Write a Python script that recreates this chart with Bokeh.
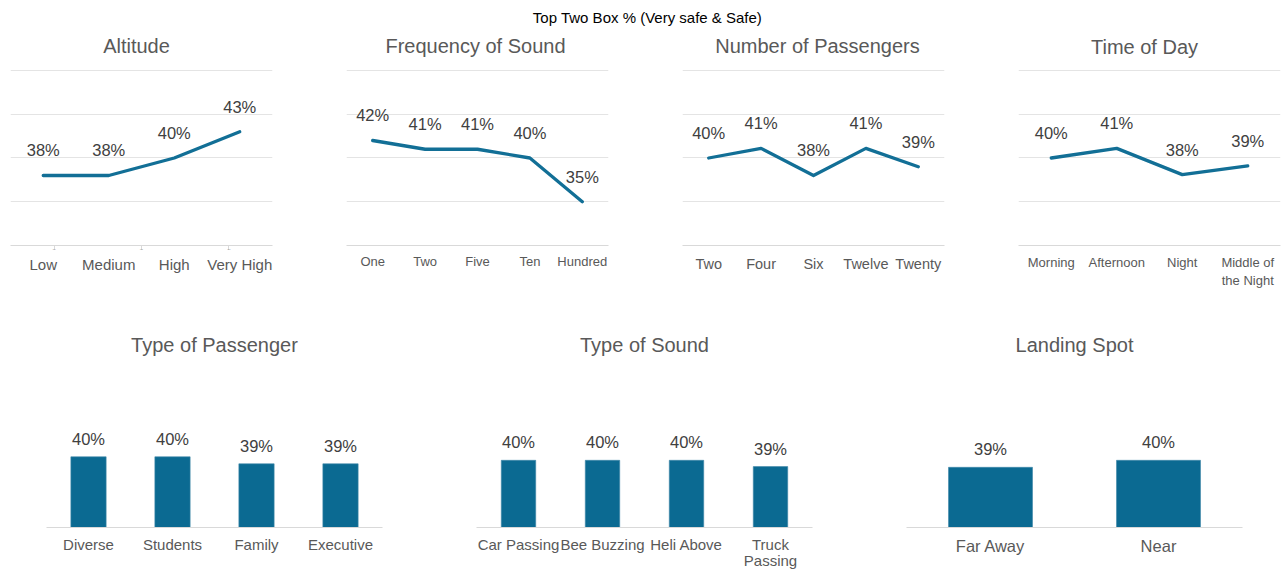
from bokeh.plotting import figure
from bokeh.models import (FactorRange, Range1d, CategoricalAxis, FixedTicker,
                          Grid, ColumnDataSource)
from bokeh.layouts import column, row
from bokeh.core.properties import value
from bokeh.embed import file_html
from bokeh.resources import INLINE

# ---------------- data ----------------
main_title = "Top Two Box % (Very safe & Safe)"

altitude_cats = ["Low", "Medium", "High", "Very High"]
altitude_vals = [0.380, 0.380, 0.400, 0.430]

freq_cats = ["One", "Two", "Five", "Ten", "Hundred"]
freq_vals = [0.420, 0.410, 0.410, 0.400, 0.350]

pass_cats = ["Two", "Four", "Six", "Twelve", "Twenty"]
pass_vals = [0.400, 0.411, 0.380, 0.411, 0.390]

time_cats = ["Morning", "Afternoon", "Night", "Middle of\nthe Night"]
time_vals = [0.400, 0.411, 0.381, 0.391]

ptype_cats = ["Diverse", "Students", "Family", "Executive"]
ptype_vals = [0.401, 0.401, 0.391, 0.391]

sound_cats = ["Car Passing", "Bee Buzzing", "Heli Above", "Truck\nPassing"]
sound_vals = [0.396, 0.396, 0.396, 0.387]

land_cats = ["Far Away", "Near"]
land_vals = [0.386, 0.396]

top_titles = ["Altitude", "Frequency of Sound", "Number of Passengers", "Time of Day"]

grid_ticks = [0.30, 0.35, 0.40, 0.45, 0.50]

# ---------------- styles / layout ----------------
FONT = "Liberation Sans"
LINE_C = "#126f96"
BAR_C = "#0b6a92"
GRID_C = "#e4e4e4"
AXIS_C = "#d9d9d9"
TITLE_C = "#595959"
LABEL_C = "#595959"
VAL_C = "#404040"

Y0 = 0.30
TOP_END = 0.50114          # line panels: 177 px frame for 0.30..0.50114
PAGE_W = 1284
STRIP_H = 65               # header + top-row titles strip
TOP_FRAME_LEFT = [10, 346, 682, 1018]
TOP_FRAME_W = 262
TOP_TITLE_DX = [-5, -2, 4, -5]
TOP_TITLE_Y = [45, 45, 45, 46.5]


def pct(v):
    return f"{round(v * 100):.0f}%"


def base_fig(title, cats, width, height, y_end, mb_left, mb_right, mb_top, mb_bottom,
             standoff, title_dx):
    p = figure(width=width, height=height, x_range=FactorRange(*cats),
               y_range=Range1d(Y0, y_end), x_axis_location=None, y_axis_location=None,
               toolbar_location=None, output_backend="svg", title=title,
               min_border_left=mb_left, min_border_right=mb_right,
               min_border_top=mb_top, min_border_bottom=mb_bottom)
    p.outline_line_color = None
    p.background_fill_color = "white"
    p.border_fill_color = "white"
    if title is not None:
        p.title.align = "center"
        p.title.offset = title_dx
        p.title.text_font = FONT
        p.title.text_font_size = "20px"
        p.title.text_font_style = "normal"
        p.title.text_color = TITLE_C
        p.title.standoff = standoff
    p.center = []
    return p


def cat_axis(p, font_size, standoff, line=True, range_name="default", line_height=1.2):
    ax = CategoricalAxis(x_range_name=range_name)
    ax.axis_line_color = AXIS_C if line else None
    ax.axis_line_width = 1
    ax.major_tick_line_color = None
    ax.major_tick_out = 0
    ax.major_tick_in = 0
    ax.minor_tick_line_color = None
    ax.major_label_text_font = FONT
    ax.major_label_text_font_size = font_size
    ax.major_label_text_color = LABEL_C
    ax.major_label_text_line_height = line_height
    ax.major_label_standoff = standoff
    ax.major_label_orientation = "horizontal"
    p.add_layout(ax, "below")
    return ax


def line_panel(cats, vals, width, mb_right, label_size, standoff, edge_ticks=False):
    p = base_fig(None, cats, width, 225, TOP_END, 10, mb_right, 4, 44, 0, 0)
    p.add_layout(Grid(dimension=1, ticker=FixedTicker(ticks=grid_ticks),
                      grid_line_color=GRID_C, grid_line_width=1))
    if edge_ticks:
        # boundary positions between categories, as a helper factor range
        edges = [f"edge{i}" for i in range(len(cats) + 1)]
        p.extra_x_ranges = {"edges": FactorRange(*edges, range_padding=-1,
                                                 range_padding_units="absolute")}
        ea = cat_axis(p, "1px", 0, line=True, range_name="edges")
        ea.major_label_overrides = {e: "" for e in edges}
        ea.major_tick_line_color = AXIS_C
        ea.major_tick_out = 4
        cat_axis(p, label_size, standoff, line=False)
    else:
        cat_axis(p, label_size, standoff, line=True)
    src = ColumnDataSource(dict(x=cats, y=vals, lab=[pct(v) for v in vals]))
    p.line("x", "y", source=src, line_color=LINE_C, line_width=3.3, line_join="round", line_cap="round")
    p.text("x", "y", text="lab", source=src, text_font=value(FONT), text_font_size="16.5px",
           text_color=VAL_C, text_align="center", text_baseline="alphabetic", y_offset=-25)
    return p


def bar_panel(title, cats, vals, width, mb_right, bar_w, label_size, standoff, title_dx):
    p = base_fig(title, cats, width, 282, 0.50, 46, mb_right, 97, 45, 63, title_dx)
    cat_axis(p, label_size, standoff, line=True, line_height=0.95)
    src = ColumnDataSource(dict(x=cats, y=vals, lab=[pct(v) for v in vals]))
    p.vbar(x="x", top="y", bottom=Y0, width=bar_w, source=src, fill_color=BAR_C,
           line_color="#3f86a8", line_width=0.6)
    p.text("x", "y", text="lab", source=src, text_font=value(FONT), text_font_size="16.5px",
           text_color=VAL_C, text_align="center", text_baseline="alphabetic", y_offset=-18)
    return p


# ---------------- header + top-row titles strip ----------------
head = figure(width=PAGE_W, height=STRIP_H, x_range=Range1d(0, PAGE_W), y_range=Range1d(STRIP_H, 0),
              x_axis_location=None, y_axis_location=None, toolbar_location=None,
              output_backend="svg", min_border=0)
head.outline_line_color = None
head.center = []
head.text(x=[647], y=[17], text=[main_title], text_font=value(FONT), text_font_size="15px",
          text_color="black", text_align="center", text_baseline="middle")
title_src = ColumnDataSource(dict(
    x=[l + TOP_FRAME_W / 2 + d for l, d in zip(TOP_FRAME_LEFT, TOP_TITLE_DX)],
    y=TOP_TITLE_Y, t=top_titles))
head.text(x="x", y="y", text="t", source=title_src, text_font=value(FONT), text_font_size="20px",
          text_color=TITLE_C, text_align="center", text_baseline="middle")

# ---------------- top row ----------------
p1 = line_panel(altitude_cats, altitude_vals, 336, 64, "15px", 2, edge_ticks=True)
p2 = line_panel(freq_cats, freq_vals, 336, 64, "13px", 8)
p3 = line_panel(pass_cats, pass_vals, 336, 64, "14.5px", 10)
p4 = line_panel(time_cats, time_vals, 276, 4, "13px", 9)

# ---------------- bottom row ----------------
p5 = bar_panel("Type of Passenger", ptype_cats, ptype_vals, 430, 48, 0.42, "15px", 8, -4)
p6 = bar_panel("Type of Sound", sound_cats, sound_vals, 430, 48, 0.41, "15px", 8, -4)
p7 = bar_panel("Landing Spot", land_cats, land_vals, 424, 42, 0.5, "16.5px", 9, -4)

layout = column(head, row(p1, p2, p3, p4), row(p5, p6, p7))

open("out.html", "w").write(file_html(layout, INLINE))
